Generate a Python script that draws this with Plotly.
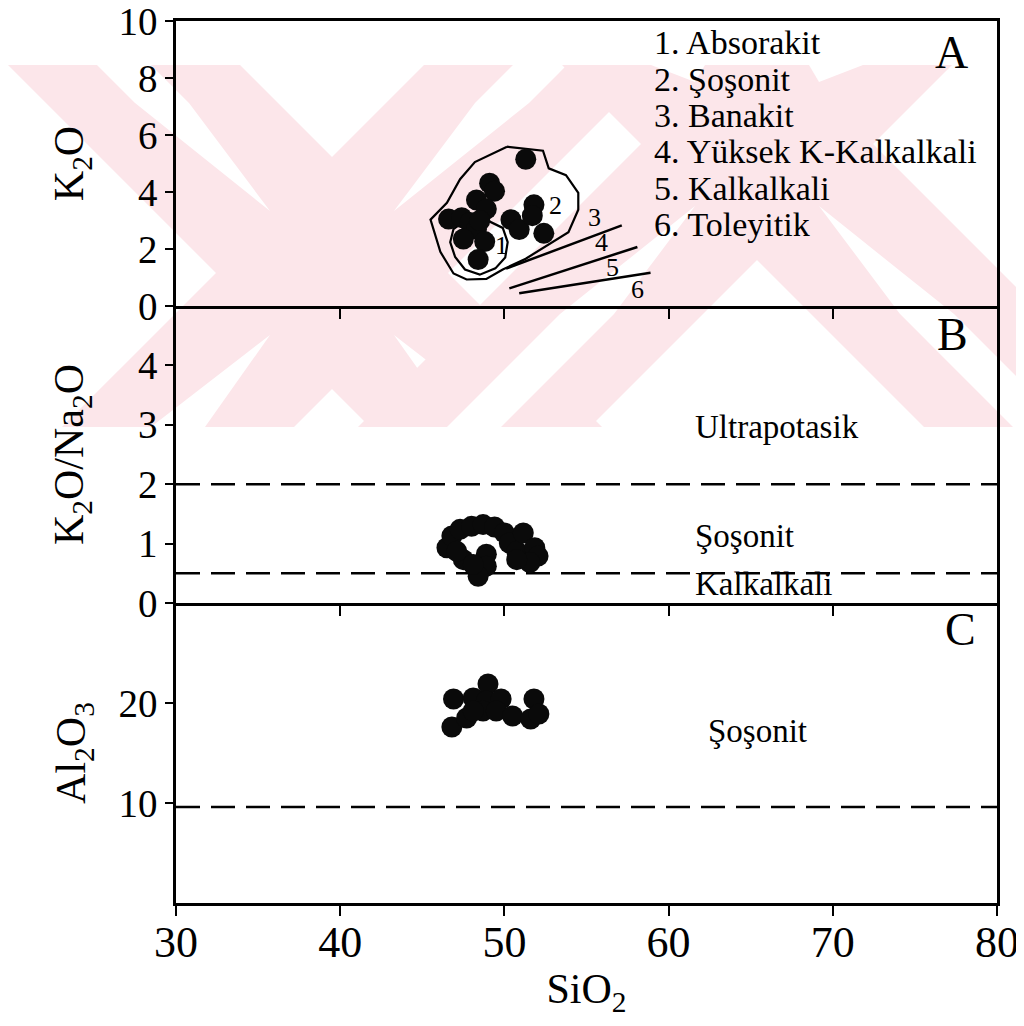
import plotly.graph_objects as go
from plotly.subplots import make_subplots

# ---------------- data ----------------
# Panel A: K2O vs SiO2
A_sio2 = [51.3, 49.1, 49.4, 48.3, 48.9, 46.6, 47.4, 47.9, 48.3, 47.5, 48.8, 48.4, 50.4, 50.9, 51.8, 51.7, 52.4, 48.5]
A_k2o = [5.15, 4.31, 4.03, 3.72, 3.4, 3.05, 3.1, 2.93, 2.7, 2.35, 2.26, 1.63, 3.03, 2.68, 3.55, 3.17, 2.55, 3.0]

# Field 2 (Şoşonit) outline and field 1 (Absorakit) outline
outer_sio2 = [50.16, 52.35, 52.7, 53.75, 54.5, 54.5, 53.9, 52.5, 51.3, 49.9, 48.9, 47.7, 46.9, 46.1, 45.7, 45.5, 46.5, 47.3, 48.2, 50.16]
outer_k2o = [5.59, 5.45, 4.83, 4.59, 3.97, 3.38, 2.59, 2.1, 1.66, 1.28, 0.95, 0.93, 1.14, 1.9, 2.6, 3.03, 3.62, 4.45, 5.05, 5.59]
inner_sio2 = [47.6, 48.9, 49.9, 50.2, 50.05, 49.45, 48.5, 47.6, 47.0, 46.7, 46.9, 47.6]
inner_k2o = [3.0, 3.02, 2.74, 2.24, 1.7, 1.32, 1.1, 1.28, 1.72, 2.24, 2.7, 3.0]

# Boundary lines (3/4, 4/5, 5/6)
bound_sio2 = [[50.1, 57.15], [50.3, 58.1], [50.9, 58.9]]
bound_k2o = [[1.31, 2.83], [0.62, 2.07], [0.45, 1.17]]
field_labels = ["1", "2", "3", "4", "5", "6"]
field_lab_sio2 = [49.8, 53.1, 55.5, 55.9, 56.6, 58.1]
field_lab_k2o = [2.14, 3.52, 3.1, 2.24, 1.34, 0.59]

legend_items = ["1. Absorakit", "2. Şoşonit", "3. Banakit", "4. Yüksek K-Kalkalkali", "5. Kalkalkali", "6. Toleyitik"]

# Panel B: K2O/Na2O vs SiO2
B_sio2 = [46.5, 46.8, 47.3, 48.0, 48.7, 49.4, 50.0, 50.3, 50.75, 51.15, 51.85, 52.05, 51.55, 50.75, 47.5, 47.1, 48.9, 48.9, 48.4, 48.1]
B_ratio = [0.93, 1.13, 1.24, 1.29, 1.32, 1.28, 1.18, 1.01, 0.87, 1.18, 0.93, 0.79, 0.68, 0.73, 0.73, 0.87, 0.82, 0.62, 0.45, 0.65]
B_bounds = [2.0, 0.5]

# Panel C: Al2O3 vs SiO2
C_sio2 = [46.9, 46.8, 47.7, 48.1, 49.0, 48.9, 49.8, 48.7, 49.5, 50.5, 51.6, 51.8, 52.1, 48.1]
C_al2o3 = [20.4, 17.6, 18.5, 20.5, 21.9, 20.2, 20.4, 19.2, 19.2, 18.7, 18.4, 20.4, 18.9, 19.2]
C_bound = 9.6

FONT = "Liberation Serif"

# page body has an 8px margin: the figure is sized/placed to compensate
OFF = 8
W, H = 1016, 1010
ML, MR, MT, MB = 168, 27, 13, 115
pw, ph = W - ML - MR, H - MT - MB

fig = make_subplots(rows=3, cols=1, shared_xaxes=True, vertical_spacing=0,
                    row_heights=[285, 297, 300])

marker = dict(color="#0a0a0a", size=21, line=dict(width=0))

# Panel A
fig.add_trace(go.Scatter(x=outer_sio2, y=outer_k2o, mode="lines",
                         line=dict(color="black", width=2.2), hoverinfo="skip"), row=1, col=1)
fig.add_trace(go.Scatter(x=inner_sio2, y=inner_k2o, mode="lines",
                         line=dict(color="black", width=2.2), hoverinfo="skip"), row=1, col=1)
for bx, by in zip(bound_sio2, bound_k2o):
    fig.add_trace(go.Scatter(x=bx, y=by, mode="lines",
                             line=dict(color="black", width=2.5), hoverinfo="skip"), row=1, col=1)
fig.add_trace(go.Scatter(x=A_sio2, y=A_k2o, mode="markers", marker=marker), row=1, col=1)

# Panel B
for b in B_bounds:
    fig.add_trace(go.Scatter(x=[30, 80], y=[b, b], mode="lines",
                             line=dict(color="black", width=2.5, dash="24px,11px"),
                             hoverinfo="skip"), row=2, col=1)
fig.add_trace(go.Scatter(x=B_sio2, y=B_ratio, mode="markers", marker=marker), row=2, col=1)

# Panel C
fig.add_trace(go.Scatter(x=[30, 80], y=[C_bound, C_bound], mode="lines",
                         line=dict(color="black", width=2.5, dash="24px,11px"),
                         hoverinfo="skip"), row=3, col=1)
fig.add_trace(go.Scatter(x=C_sio2, y=C_al2o3, mode="markers", marker=marker), row=3, col=1)

# ---------------- axes ----------------
base = dict(showline=True, linecolor="black", linewidth=2.5,
            ticks="outside", tickcolor="black", tickwidth=2, showgrid=False,
            zeroline=False, automargin=False, ticklabeloverflow="allow",
            tickfont=dict(family=FONT, size=39, color="black"))
fig.update_xaxes(base, mirror=True, range=[30, 80], tickvals=[40, 50, 60, 70], ticklen=10,
                 showticklabels=False, row=1, col=1)
fig.update_xaxes(base, mirror=False, range=[30, 80], tickvals=[40, 50, 60, 70], ticklen=10,
                 showticklabels=False, row=2, col=1)
fig.update_xaxes(base, mirror=False, range=[30, 80], tickvals=[30, 40, 50, 60, 70, 80], ticklen=10,
                 tickfont=dict(family=FONT, size=44, color="black"), ticklabelstandoff=-12,
                 title=dict(text="SiO<sub>2</sub>", font=dict(family=FONT, size=42, color="black"),
                            standoff=10),
                 row=3, col=1)
ytitle_font = dict(family=FONT, size=42, color="black")
fig.update_yaxes(base, mirror=True, range=[0, 10], tickvals=[0, 2, 4, 6, 8, 10], ticklen=8,
                 title=dict(text="K<sub>2</sub>O", font=ytitle_font, standoff=22), row=1, col=1)
fig.update_yaxes(base, mirror=True, range=[0, 5], tickvals=[0, 1, 2, 3, 4], ticklen=8,
                 title=dict(text="K<sub>2</sub>O/Na<sub>2</sub>O", font=ytitle_font, standoff=42),
                 row=2, col=1)
fig.update_yaxes(base, mirror=True, range=[0, 30], tickvals=[10, 20], ticklen=8,
                 title=dict(text="Al<sub>2</sub>O<sub>3</sub>", font=ytitle_font, standoff=20),
                 row=3, col=1)

# ---------------- annotations ----------------
ann = []
lab_font = dict(family=FONT, size=34, color="black")
for i, t in enumerate(legend_items):
    ann.append(dict(x=59.0, y=9.24 - 1.275 * i, xref="x", yref="y", text=t, showarrow=False,
                    xanchor="left", yanchor="middle", font=lab_font))
for t, xx, yy in zip(field_labels, field_lab_sio2, field_lab_k2o):
    ann.append(dict(x=xx, y=yy, xref="x", yref="y", text=t, showarrow=False,
                    font=dict(family=FONT, size=26, color="black")))
letter_font = dict(family=FONT, size=46, color="black")
ann.append(dict(x=77.2, y=8.9, xref="x", yref="y", text="A", showarrow=False, font=letter_font))
ann.append(dict(x=77.3, y=4.52, xref="x2", yref="y2", text="B", showarrow=False, font=letter_font))
ann.append(dict(x=77.8, y=27.4, xref="x3", yref="y3", text="C", showarrow=False, font=letter_font))
reg_font = dict(family=FONT, size=33, color="black")
ann.append(dict(x=61.5, y=2.97, xref="x2", yref="y2", text="Ultrapotasik", showarrow=False,
                xanchor="left", font=reg_font))
ann.append(dict(x=61.5, y=1.13, xref="x2", yref="y2", text="Şoşonit", showarrow=False,
                xanchor="left", font=reg_font))
ann.append(dict(x=61.5, y=0.32, xref="x2", yref="y2", text="Kalkalkali", showarrow=False,
                xanchor="left", font=reg_font))
ann.append(dict(x=62.3, y=17.2, xref="x3", yref="y3", text="Şoşonit", showarrow=False,
                xanchor="left", font=reg_font))

# ---------------- background watermark (decorative) ----------------
def px(x):
    return (x - OFF - ML) / pw


def py(y):
    return (H - MB - (y - OFF)) / ph


def path(pts):
    return "M " + " L ".join(f"{px(a):.4f},{py(b):.4f}" for a, b in pts) + " Z"


Y0, Y1 = 65, 427
PINK = "#fce6ea"
HW, SL, GAP, TAPER = 116, 27, 62, 108
shapes = []


def add(pts, color):
    shapes.append(dict(type="path", xref="paper", yref="paper", layer="below",
                       path=path(pts), fillcolor=color, line=dict(width=0)))


for cx, cy in [(332, 273), (757, 144)]:
    for s in (1, -1):
        xc = lambda y: cx + s * (y - cy)
        add([(xc(Y0) - HW, Y0), (xc(Y0) + HW, Y0), (xc(Y1) + HW, Y1), (xc(Y1) - HW, Y1)], PINK)
    for s in (1, -1):
        xc = lambda y: cx + s * (y - cy)
        # slit in upper arm
        tip = cy - GAP
        if tip > Y0:
            full = max(Y0, tip - TAPER)
            add([(xc(Y0) - SL, Y0), (xc(Y0) + SL, Y0), (xc(full) + SL, full), (xc(tip), tip),
                 (xc(full) - SL, full)], "white")
        # slit in lower arm
        tip = cy + GAP
        if tip < Y1:
            full = min(Y1, tip + TAPER)
            add([(xc(Y1) - SL, Y1), (xc(Y1) + SL, Y1), (xc(full) + SL, full), (xc(tip), tip),
                 (xc(full) - SL, full)], "white")

fig.update_layout(width=W, height=H, margin=dict(l=ML, r=MR, t=MT, b=MB, autoexpand=False),
                  paper_bgcolor="white", plot_bgcolor="rgba(0,0,0,0)",
                  showlegend=False, annotations=ann, shapes=shapes,
                  font=dict(family=FONT, color="black"))

fig.write_html("out.html")
